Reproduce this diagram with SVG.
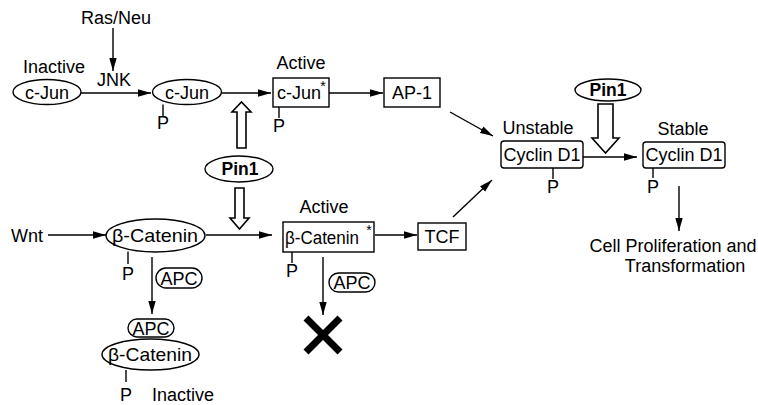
<svg xmlns="http://www.w3.org/2000/svg" width="758" height="405" viewBox="0 0 758 405">
<style>
text{font-family:"Liberation Sans",Arial,sans-serif;font-size:18px;fill:#000;text-anchor:middle}
.b{font-weight:bold;font-size:17.5px}
.sm{font-size:14px}
.bc{font-size:19px}
.shape{fill:#fff;stroke:#000;stroke-width:1.4}
.ln{fill:none;stroke:#000;stroke-width:1.4}
.arr{fill:none;stroke:#000;stroke-width:1.4;marker-end:url(#ah)}
.hollow{fill:#fff;stroke:#000;stroke-width:1.6;stroke-linejoin:miter}
</style>
<defs>
<marker id="ah" markerUnits="userSpaceOnUse" markerWidth="14" markerHeight="8" refX="13" refY="4" orient="auto">
<path d="M0,0.3 L13,4 L0,7.7 z" fill="#000"/>
</marker>
</defs>
<rect width="758" height="405" fill="#fff"/>

<g id="connectors">
<line class="arr" x1="113" y1="28" x2="113" y2="71"/>
<line class="arr" x1="81" y1="93" x2="151" y2="93"/>
<line class="arr" x1="222" y1="93" x2="271" y2="93"/>
<line class="arr" x1="329" y1="93" x2="383" y2="93"/>
<line class="arr" x1="450" y1="112" x2="493" y2="136"/>
<line class="arr" x1="583" y1="157" x2="637" y2="157"/>
<line class="arr" x1="679" y1="186" x2="679" y2="231"/>
<line class="arr" x1="48" y1="235" x2="106" y2="235"/>
<line class="arr" x1="206" y1="235" x2="272" y2="235"/>
<line class="arr" x1="152" y1="257" x2="152" y2="314"/>
<line class="arr" x1="323" y1="257" x2="323" y2="315"/>
<line class="arr" x1="375" y1="235" x2="417" y2="235"/>
<line class="arr" x1="453" y1="217" x2="492" y2="180"/>
<polygon id="hollow-up" class="hollow" points="237,148 246,148 246,112 251,112 241.5,102 232,112 237,112"/>
<polygon id="hollow-down" class="hollow" points="235,188 244,188 244,218 249,218 239.5,229 230,218 235,218"/>
<polygon id="hollow-down-2" class="hollow" points="598,104 613,104 613,138 619,138 605.5,153 592,138 598,138"/>
</g>

<g id="ras-neu"><text x="116" y="24">Ras/Neu</text></g>
<g id="jnk"><text x="114" y="86">JNK</text></g>

<g id="cjun-inactive">
<text x="54" y="73">Inactive</text>
<ellipse class="shape" cx="47" cy="92" rx="34" ry="12.5"/>
<text x="47" y="98.5">c-Jun</text>
</g>

<g id="cjun-p">
<ellipse class="shape" cx="187" cy="92" rx="34.5" ry="12.5"/>
<text x="187" y="98.5">c-Jun</text>
<line class="ln" x1="163" y1="104.5" x2="163" y2="116"/>
<text x="163" y="129">P</text>
</g>

<g id="cjun-active">
<text x="301" y="69">Active</text>
<rect class="shape" x="273" y="78" width="56" height="29"/>
<text x="299" y="99">c-Jun</text>
<text class="sm" x="323" y="91">*</text>
<line class="ln" x1="279" y1="107" x2="279" y2="118"/>
<text x="279" y="132">P</text>
</g>

<g id="ap1">
<rect class="shape" x="384" y="78" width="56" height="29"/>
<text x="412" y="99">AP-1</text>
</g>

<g id="cyclin-unstable">
<text x="538" y="134">Unstable</text>
<rect class="shape" x="501" y="141" width="82" height="27" rx="3"/>
<text x="542" y="161">Cyclin D1</text>
<line class="ln" x1="553" y1="168" x2="553" y2="179"/>
<text x="553" y="193">P</text>
</g>

<g id="pin1-right">
<ellipse class="shape" cx="608" cy="90" rx="33" ry="11"/>
<text class="b" x="608" y="96">Pin1</text>
</g>

<g id="cyclin-stable">
<text x="683" y="135">Stable</text>
<rect class="shape" x="643" y="142" width="82" height="26" rx="3"/>
<text x="684" y="161">Cyclin D1</text>
<line class="ln" x1="653" y1="168" x2="653" y2="178"/>
<text x="653" y="193">P</text>
</g>

<g id="outcome">
<text x="673" y="252">Cell Proliferation and</text>
<text x="685" y="272">Transformation</text>
</g>

<g id="pin1-center">
<ellipse class="shape" cx="239" cy="169" rx="34" ry="13"/>
<text class="b" x="240" y="175">Pin1</text>
</g>

<g id="wnt"><text x="27" y="242">Wnt</text></g>

<g id="bcat">
<ellipse class="shape" cx="155.5" cy="235.5" rx="49.5" ry="16.5"/>
<text class="bc" x="155" y="242" textLength="86" lengthAdjust="spacingAndGlyphs">β-Catenin</text>
<line class="ln" x1="128" y1="251.5" x2="128" y2="264"/>
<text x="128" y="280">P</text>
</g>

<g id="apc1">
<rect class="shape" x="156" y="268" width="46" height="20" rx="10"/>
<text x="179" y="284.5">APC</text>
</g>

<g id="apc2">
<rect class="shape" x="128" y="319" width="46" height="18" rx="9"/>
<text x="151" y="334.5">APC</text>
</g>

<g id="bcat-inactive">
<ellipse class="shape" cx="150.5" cy="354.5" rx="48.5" ry="15.5"/>
<text class="bc" x="150" y="361" textLength="84" lengthAdjust="spacingAndGlyphs">β-Catenin</text>
<line class="ln" x1="126" y1="370" x2="126" y2="382"/>
<text x="126" y="401">P</text>
<text x="183" y="401">Inactive</text>
</g>

<g id="bcat-active">
<text x="324" y="213">Active</text>
<rect class="shape" x="283" y="222" width="91" height="30"/>
<text x="322" y="244" textLength="74" lengthAdjust="spacingAndGlyphs">β-Catenin</text>
<text class="sm" x="369" y="235">*</text>
<line class="ln" x1="292" y1="252" x2="292" y2="263"/>
<text x="292" y="277">P</text>
</g>

<g id="apc3">
<rect class="shape" x="329" y="273" width="46" height="19" rx="9.5"/>
<text x="352" y="288.5">APC</text>
</g>

<g id="degraded">
<path d="M306,318 L340,352 M340,318 L306,352" stroke="#000" stroke-width="7" fill="none"/>
</g>

<g id="tcf">
<rect class="shape" x="418" y="223" width="48" height="27"/>
<text x="442" y="243">TCF</text>
</g>
</svg>
